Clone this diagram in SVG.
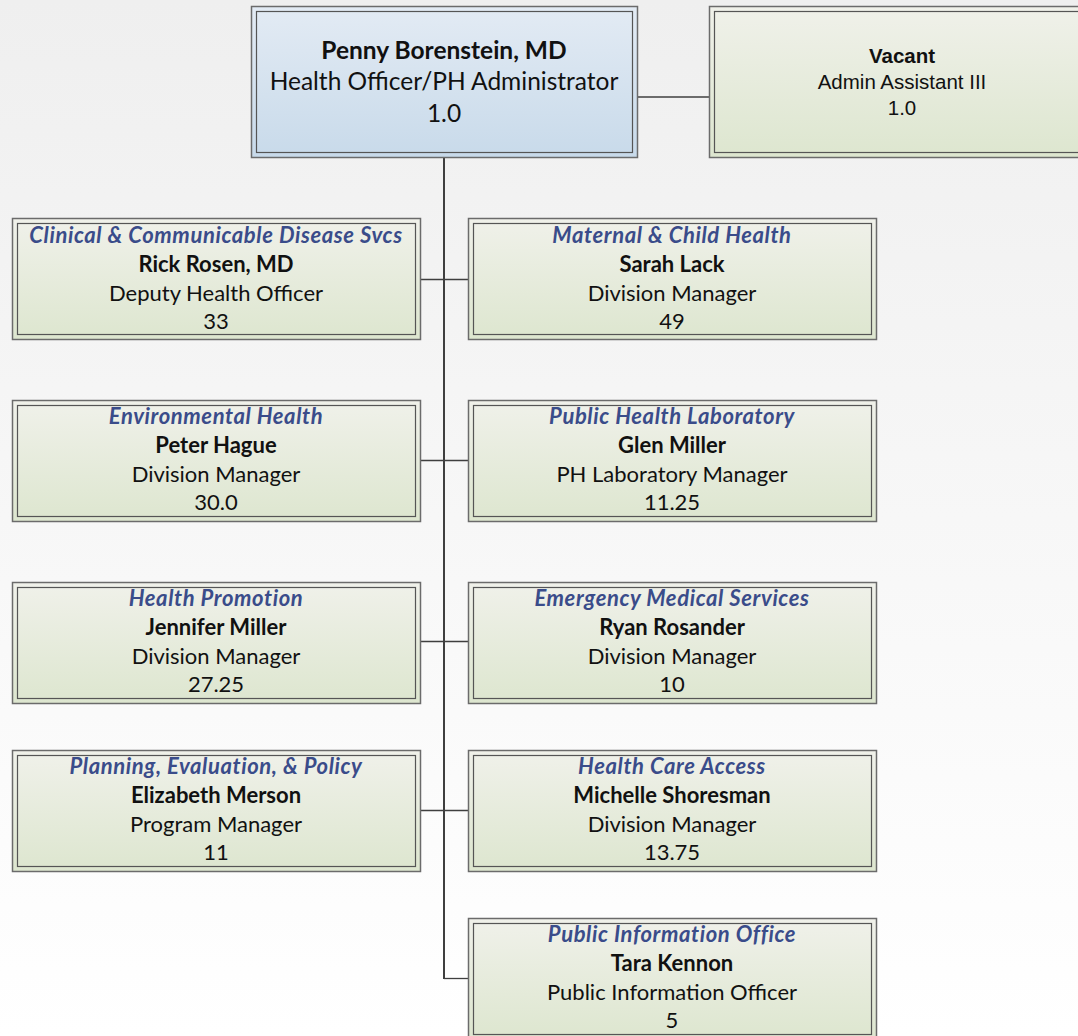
<svg xmlns="http://www.w3.org/2000/svg" width="1078" height="1036" viewBox="0 0 1078 1036">
<defs>
<linearGradient id="bg" x1="0" y1="0" x2="0" y2="1"><stop offset="0" stop-color="#efefef"/><stop offset="1" stop-color="#ffffff"/></linearGradient>
<linearGradient id="g" x1="0" y1="0" x2="0" y2="1"><stop offset="0" stop-color="#f0f1ea"/><stop offset="1" stop-color="#dde6cf"/></linearGradient>
<linearGradient id="b" x1="0" y1="0" x2="0" y2="1"><stop offset="0" stop-color="#e3ebf4"/><stop offset="1" stop-color="#c8daea"/></linearGradient>
<style>
.o{stroke:#6b6b6b;stroke-width:1.5}
.i{fill:none;stroke:#555;stroke-width:1.2}
text{font-family:Lato,"Open Sans","Liberation Sans",sans-serif;text-anchor:middle;fill:#111}
.t{font-size:22px;font-style:italic;font-weight:bold;fill:#3a4c8a;letter-spacing:0.6px}
.n{font-size:22px;font-weight:bold}
.r{font-size:22px}
.h{font-size:24.5px}
.a{font-family:"Liberation Sans",Arial,sans-serif;font-size:20.5px}
.c{stroke:#3f3f3f;stroke-width:1.3;fill:none}
</style>
</defs>
<rect width="1078" height="1036" fill="url(#bg)"/>
<g id="connectors">
<line class="c" x1="444" y1="157" x2="444" y2="979" style="stroke-width:2"/>
<line class="c" x1="637" y1="97" x2="709" y2="97"/>
<line class="c" x1="420" y1="279.5" x2="468" y2="279.5"/>
<line class="c" x1="420" y1="460.5" x2="468" y2="460.5"/>
<line class="c" x1="420" y1="641.5" x2="468" y2="641.5"/>
<line class="c" x1="420" y1="810.5" x2="468" y2="810.5"/>
<line class="c" x1="444" y1="978.5" x2="468" y2="978.5"/>
</g>
<g id="n_penny">
<rect class="o" x="251.5" y="6.5" width="386" height="151" fill="url(#b)"/>
<rect class="i" x="256.5" y="11.5" width="376" height="141"/>
<text class="h" x="444" y="59" font-weight="bold">Penny Borenstein, MD</text>
<text class="h" x="444" y="90">Health Officer/PH Administrator</text>
<text class="h" x="444" y="122">1.0</text>
</g>
<g id="n_vacant">
<rect class="o" x="709.5" y="6.5" width="386" height="151" fill="url(#g)"/>
<rect class="i" x="714.5" y="11.5" width="376" height="141"/>
<text class="a" x="902" y="63" font-weight="bold">Vacant</text>
<text class="a" x="902" y="89">Admin Assistant III</text>
<text class="a" x="902" y="115">1.0</text>
</g>
<g id="n_clinical">
<rect class="o" x="12.5" y="218.5" width="408" height="121" fill="url(#g)"/>
<rect class="i" x="17.5" y="223.5" width="398" height="111"/>
<text class="t" x="216" y="243">Clinical &amp; Communicable Disease Svcs</text>
<text class="n" x="216" y="272">Rick Rosen, MD</text>
<text class="r" x="216" y="301">Deputy Health Officer</text>
<text class="r" x="216" y="329">33</text>
</g>
<g id="n_mch">
<rect class="o" x="468.5" y="218.5" width="408" height="121" fill="url(#g)"/>
<rect class="i" x="473.5" y="223.5" width="398" height="111"/>
<text class="t" x="672" y="243">Maternal &amp; Child Health</text>
<text class="n" x="672" y="272">Sarah Lack</text>
<text class="r" x="672" y="301">Division Manager</text>
<text class="r" x="672" y="329">49</text>
</g>
<g id="n_env">
<rect class="o" x="12.5" y="400.5" width="408" height="121" fill="url(#g)"/>
<rect class="i" x="17.5" y="405.5" width="398" height="111"/>
<text class="t" x="216" y="424">Environmental Health</text>
<text class="n" x="216" y="453">Peter Hague</text>
<text class="r" x="216" y="482">Division Manager</text>
<text class="r" x="216" y="510">30.0</text>
</g>
<g id="n_lab">
<rect class="o" x="468.5" y="400.5" width="408" height="121" fill="url(#g)"/>
<rect class="i" x="473.5" y="405.5" width="398" height="111"/>
<text class="t" x="672" y="424">Public Health Laboratory</text>
<text class="n" x="672" y="453">Glen Miller</text>
<text class="r" x="672" y="482">PH Laboratory Manager</text>
<text class="r" x="672" y="510">11.25</text>
</g>
<g id="n_hp">
<rect class="o" x="12.5" y="582.5" width="408" height="121" fill="url(#g)"/>
<rect class="i" x="17.5" y="587.5" width="398" height="111"/>
<text class="t" x="216" y="606">Health Promotion</text>
<text class="n" x="216" y="635">Jennifer Miller</text>
<text class="r" x="216" y="664">Division Manager</text>
<text class="r" x="216" y="692">27.25</text>
</g>
<g id="n_ems">
<rect class="o" x="468.5" y="582.5" width="408" height="121" fill="url(#g)"/>
<rect class="i" x="473.5" y="587.5" width="398" height="111"/>
<text class="t" x="672" y="606">Emergency Medical Services</text>
<text class="n" x="672" y="635">Ryan Rosander</text>
<text class="r" x="672" y="664">Division Manager</text>
<text class="r" x="672" y="692">10</text>
</g>
<g id="n_pep">
<rect class="o" x="12.5" y="750.5" width="408" height="121" fill="url(#g)"/>
<rect class="i" x="17.5" y="755.5" width="398" height="111"/>
<text class="t" x="216" y="774">Planning, Evaluation, &amp; Policy</text>
<text class="n" x="216" y="803">Elizabeth Merson</text>
<text class="r" x="216" y="832">Program Manager</text>
<text class="r" x="216" y="860">11</text>
</g>
<g id="n_hca">
<rect class="o" x="468.5" y="750.5" width="408" height="121" fill="url(#g)"/>
<rect class="i" x="473.5" y="755.5" width="398" height="111"/>
<text class="t" x="672" y="774">Health Care Access</text>
<text class="n" x="672" y="803">Michelle Shoresman</text>
<text class="r" x="672" y="832">Division Manager</text>
<text class="r" x="672" y="860">13.75</text>
</g>
<g id="n_pio">
<rect class="o" x="468.5" y="918.5" width="408" height="121" fill="url(#g)"/>
<rect class="i" x="473.5" y="923.5" width="398" height="111"/>
<text class="t" x="672" y="942">Public Information Office</text>
<text class="n" x="672" y="971">Tara Kennon</text>
<text class="r" x="672" y="1000">Public Information Officer</text>
<text class="r" x="672" y="1028">5</text>
</g>
</svg>
